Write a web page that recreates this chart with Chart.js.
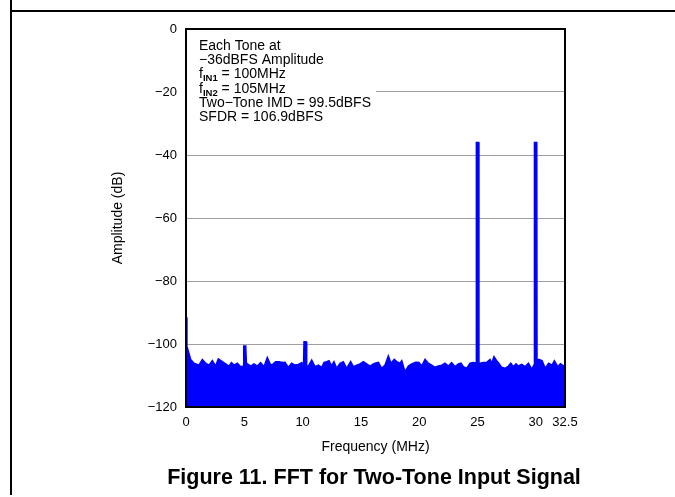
<!DOCTYPE html>
<html>
<head>
<meta charset="utf-8">
<script src="https://cdn.jsdelivr.net/npm/chart.js@4/dist/chart.umd.min.js"></script>
<style>
  html, body { margin: 0; padding: 0; background: #fff; }
  #wrap { position: relative; width: 675px; height: 497px; }
  #c { position: absolute; left: 0; top: 0; }
  .vline { position: absolute; left: 10px; top: 0; width: 1.5px; height: 495px; background: #000; }
  .hline { position: absolute; left: 10px; top: 10px; width: 665px; height: 1.5px; background: #000; }
</style>
</head>
<body>
<div id="wrap">
  <canvas id="c" width="675" height="497"></canvas>
  <div class="vline"></div>
  <div class="hline"></div>
</div>
<script>
// ---- Data ----
const freqMHz = [
  0, 0.08, 0.11, 0.4, 0.69, 1.11, 1.4, 1.69, 1.97, 2.26, 2.54, 2.77, 3.12, 3.4, 3.69, 3.89, 4.12, 4.4, 4.69, 4.9,
  4.95, 5.12, 5.18, 5.55, 5.83, 6.12, 6.4, 6.69, 6.97, 7.26, 7.49, 7.69, 7.98, 8.26,
  8.49, 8.78, 9.06, 9.35, 9.64, 9.92, 10.08, 10.12, 10.3, 10.35, 10.49, 10.78, 11.06, 11.35, 11.64, 11.84,
  12.06, 12.26, 12.49, 12.69, 12.92, 13.21, 13.49, 13.78, 14.12, 14.35, 14.64, 14.92, 15.21, 15.49, 15.78, 16.07,
  16.21, 16.5, 16.78, 17.07, 17.35, 17.58, 17.86, 18.07, 18.35, 18.5, 18.78, 19.07, 19.35, 19.7, 19.98, 20.21,
  20.5, 20.78, 21.07, 21.35, 21.64, 21.93, 22.21, 22.5, 22.78, 23.07, 23.36, 23.58, 23.78, 24.07, 24.36, 24.64,
  24.88, 24.9, 25.1, 25.12, 25.21, 25.5, 25.79, 26.07, 26.21, 26.41, 26.64, 26.87, 27.07, 27.36, 27.65, 27.85,
  28.07, 28.3, 28.5, 28.79, 29.07, 29.36, 29.65, 29.86, 29.88, 30.08, 30.1, 30.24, 30.53, 30.81, 31.1, 31.39,
  31.59, 31.88, 32.11, 32.4, 32.5
];
const amplitudeDb = [
  -91.5, -101, -101.1, -104.9, -106.1, -106.7, -104.9, -106.1, -106.7, -105.3, -107.0, -104.7, -105.6, -106.3, -107.0, -105.9, -106.7, -106.1, -107.2, -107.0,
  -100.6, -100.6, -106.1, -107.0, -106.3, -107.0, -105.9, -107.2, -104.3, -106.7, -106.3, -105.6, -105.6, -105.9,
  -105.8, -107.4, -106.1, -106.7, -106.5, -105.9, -106.5, -99.3, -99.3, -106.9, -107.0, -105.1, -107.2, -106.7, -107.4, -105.8,
  -105.6, -105.3, -106.9, -105.6, -107.7, -106.1, -105.6, -107.7, -105.6, -107.2, -106.7, -106.3, -105.6, -106.3, -107.0, -106.3,
  -106.1, -105.8, -107.7, -106.7, -103.8, -106.1, -104.9, -105.6, -106.1, -105.3, -108.8, -107.0, -106.3, -105.8, -105.9, -107.0,
  -104.9, -106.1, -106.7, -107.4, -107.0, -106.7, -106.1, -107.0, -105.9, -107.2, -106.3, -106.1, -107.2, -107.7, -106.1, -105.9,
  -106.0, -36, -36, -106.0, -106.1, -105.9, -105.8, -104.9, -106.1, -104.0, -105.3, -106.3, -107.4, -107.7, -107.0, -106.1,
  -107.2, -106.3, -107.0, -106.5, -107.2, -106.1, -108.0, -106.5, -36, -36, -105.5, -104.9, -105.3, -107.7, -106.1, -106.7,
  -105.3, -107.2, -106.3, -107.0, -107.4
];
const xTickValues = [0, 5, 10, 15, 20, 25, 30, 32.5];
const xTickLabels = ['0', '5', '10', '15', '20', '25', '30', '32.5'];
const yTickValues = [0, -20, -40, -60, -80, -100, -120];
const yTickLabels = ['0', '\u221220', '\u221240', '\u221260', '\u221280', '\u2212100', '\u2212120'];
const noteLines = [
  [['Each Tone at', 'n']],
  [['\u221236dBFS Amplitude', 'n']],
  [['f', 'n'], ['IN1', 's'], [' = 100MHz', 'n']],
  [['f', 'n'], ['IN2', 's'], [' = 105MHz', 'n']],
  [['Two\u2212Tone IMD = 99.5dBFS', 'n']],
  [['SFDR = 106.9dBFS', 'n']]
];
const xTitle = 'Frequency (MHz)';
const yTitle = 'Amplitude (dB)';
const caption = 'Figure 11. FFT for Two-Tone Input Signal';

const FONT = "'Liberation Sans', Arial, sans-serif";
Chart.defaults.color = '#000';
Chart.defaults.font.family = FONT;

const points = freqMHz.map((f, i) => ({ x: f, y: amplitudeDb[i] }));

const overlay = {
  id: 'overlay',
  beforeDatasetsDraw(chart) {
    const { ctx, chartArea: a } = chart;
    ctx.save();
    ctx.fillStyle = '#fff';
    ctx.fillRect(a.left, a.top, 376 - a.left, 112);
    ctx.fillStyle = '#000';
    ctx.textBaseline = 'alphabetic';
    let y = 50;
    noteLines.forEach(line => {
      let x = 199;
      line.forEach(([t, k]) => {
        if (k === 's') {
          ctx.font = 'bold 9.5px ' + FONT;
          ctx.fillText(t, x, y + 3);
        } else {
          ctx.font = '14px ' + FONT;
          ctx.fillText(t, x, y);
        }
        x += ctx.measureText(t).width;
      });
      y += 14.2;
    });
    ctx.restore();
  },
  afterDraw(chart) {
    const { ctx, chartArea: a } = chart;
    ctx.save();
    ctx.strokeStyle = '#000';
    ctx.lineWidth = 2;
    ctx.strokeRect(a.left, a.top, a.right - a.left, a.bottom - a.top);
    ctx.fillStyle = '#000';
    ctx.font = 'bold 21.5px ' + FONT;
    ctx.textAlign = 'center';
    ctx.textBaseline = 'middle';
    ctx.fillText(caption, 374, 478);
    ctx.restore();
  }
};

new Chart(document.getElementById('c'), {
  type: 'line',
  data: {
    datasets: [{
      data: points,
      borderColor: '#0000ff',
      backgroundColor: '#0000ff',
      borderWidth: 1.5,
      pointRadius: 0,
      fill: 'start',
      tension: 0
    }]
  },
  options: {
    responsive: false,
    animation: false,
    events: [],
    layout: { padding: { top: 29, right: 110, bottom: 0, left: 0 } },
    plugins: { legend: { display: false }, tooltip: { enabled: false }, title: { display: false } },
    scales: {
      x: {
        type: 'linear', min: 0, max: 32.5,
        afterFit: s => { s.height = 90; },
        afterBuildTicks: s => { s.ticks = xTickValues.map(v => ({ value: v })); },
        grid: { display: false, drawTicks: false },
        border: { display: false },
        ticks: {
          padding: 8, maxRotation: 0, autoSkip: false,
          font: { size: 13 },
          callback: v => { const i = xTickValues.indexOf(v); return i >= 0 ? xTickLabels[i] : ''; }
        },
        title: { display: true, text: xTitle, font: { size: 14 }, padding: { top: 0, bottom: 41.6 } }
      },
      y: {
        type: 'linear', min: -120, max: 0,
        afterFit: s => { s.width = 186; },
        afterBuildTicks: s => { s.ticks = yTickValues.map(v => ({ value: v })); },
        grid: { color: '#a0a0a0', lineWidth: 1, drawTicks: false },
        border: { display: false },
        ticks: {
          padding: 9, font: { size: 13 },
          callback: v => { const i = yTickValues.indexOf(v); return i >= 0 ? yTickLabels[i] : ''; }
        },
        title: { display: true, text: yTitle, font: { size: 14 }, padding: { top: 109.6, bottom: 0 } }
      }
    }
  },
  plugins: [overlay]
});
</script>
</body>
</html>
